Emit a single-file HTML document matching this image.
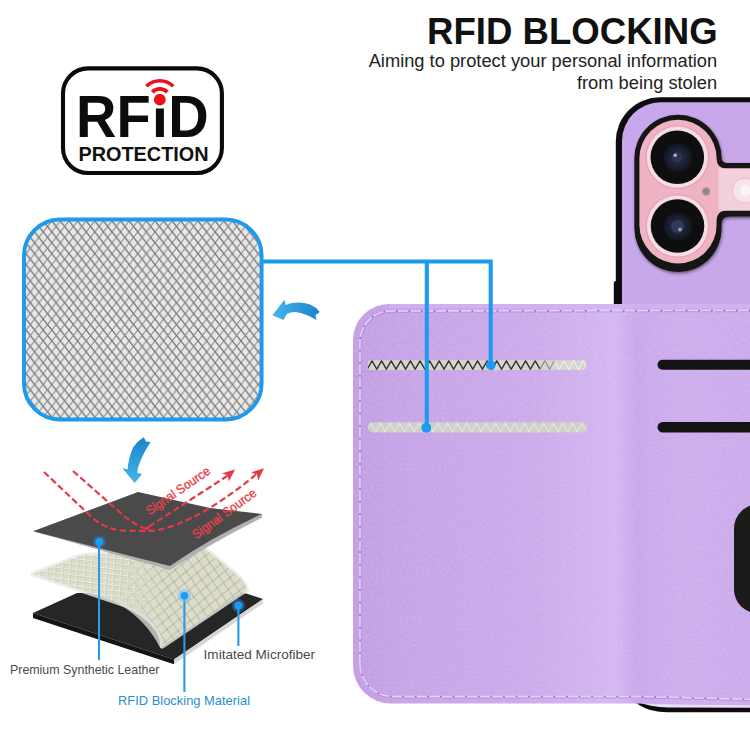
<!DOCTYPE html>
<html>
<head>
<meta charset="utf-8">
<title>RFID Blocking</title>
<style>
html,body{margin:0;padding:0;background:#fff;}
body{width:750px;height:750px;overflow:hidden;font-family:"Liberation Sans",sans-serif;}
svg{display:block;}
text{font-family:"Liberation Sans",sans-serif;}
</style>
</head>
<body>
<svg width="750" height="750" viewBox="0 0 750 750">
<defs>
  <!-- mesh pattern for big swatch -->
  <pattern id="mesh" width="8.6" height="10.9" patternUnits="userSpaceOnUse" x="26" y="221">
    <rect width="8.6" height="10.9" fill="#e8e8e8"/>
    <path d="M-4.3 -5.45 L12.9 16.35 M-4.3 5.45 L4.3 16.35 M4.3 -5.45 L12.9 5.45" stroke="#6e6e6e" stroke-width="1.25" fill="none"/>
    <path d="M12.9 -5.45 L-4.3 16.35 M4.3 -5.45 L-4.3 5.45 M12.9 5.45 L4.3 16.35" stroke="#808080" stroke-width="1.0" fill="none"/>
  </pattern>
  <!-- slot mesh -->
  
  
  <!-- layer mesh -->
  <pattern id="lmeshA" width="7.3" height="5.4" patternUnits="userSpaceOnUse" patternTransform="matrix(1 0.12 -0.06 1 0 0)">
    <rect width="7.3" height="5.4" fill="#dbdbca"/>
    <path d="M0.6 0 L0.6 5.4 M0 0.5 L7.3 0.5" stroke="#efefe4" stroke-width="1.2" fill="none"/>
    <path d="M1.7 0 L1.7 5.4 M0 1.5 L7.3 1.5" stroke="#c6c6b4" stroke-width="0.6" fill="none"/>
  </pattern>
  <pattern id="lmeshB" width="11" height="12" patternUnits="userSpaceOnUse" patternTransform="rotate(8)">
    <rect width="11" height="12" fill="#dcdccb"/>
    <path d="M0 0 L11 12 M11 0 L0 12" stroke="#a9a994" stroke-width="0.9" fill="none"/>
  </pattern>
  <linearGradient id="mfade" gradientUnits="userSpaceOnUse" x1="112" y1="0" x2="168" y2="0">
    <stop offset="0" stop-color="#fff" stop-opacity="0"/>
    <stop offset="1" stop-color="#fff" stop-opacity="1"/>
  </linearGradient>
  <mask id="mB" maskUnits="userSpaceOnUse" x="0" y="500" width="300" height="200"><rect x="0" y="500" width="300" height="200" fill="url(#mfade)"/></mask>
  <linearGradient id="leather" gradientUnits="userSpaceOnUse" x1="353" y1="0" x2="750" y2="0">
    <stop offset="0" stop-color="#c29fe3"/>
    <stop offset="0.12" stop-color="#c7a4e7"/>
    <stop offset="0.45" stop-color="#cdaaeb"/>
    <stop offset="0.60" stop-color="#d2b3ef"/>
    <stop offset="0.66" stop-color="#d5b7f1"/>
    <stop offset="0.69" stop-color="#cfaeed"/>
    <stop offset="0.715" stop-color="#c9a7ea"/>
    <stop offset="0.75" stop-color="#cbaaec"/>
    <stop offset="0.82" stop-color="#ceaded"/>
    <stop offset="1" stop-color="#ccabec"/>
  </linearGradient>
  <linearGradient id="bluearrow" x1="0" y1="0" x2="1" y2="1">
    <stop offset="0" stop-color="#7cc8f2"/>
    <stop offset="1" stop-color="#1c86d6"/>
  </linearGradient>
  <radialGradient id="lens" cx="0.5" cy="0.5" r="0.5">
    <stop offset="0" stop-color="#2a3350"/>
    <stop offset="0.6" stop-color="#1b2133"/>
    <stop offset="0.9" stop-color="#141824"/>
    <stop offset="1" stop-color="#0e0e10"/>
  </radialGradient>
  <linearGradient id="arrL" x1="0" y1="0" x2="1" y2="0">
    <stop offset="0" stop-color="#45b6ec"/>
    <stop offset="1" stop-color="#1a83cb"/>
  </linearGradient>
  <linearGradient id="arrD" x1="0" y1="0" x2="0" y2="1">
    <stop offset="0" stop-color="#1a83cb"/>
    <stop offset="1" stop-color="#45b6ec"/>
  </linearGradient>
  <filter id="grain" x="0" y="0" width="100%" height="100%" color-interpolation-filters="sRGB">
    <feTurbulence type="fractalNoise" baseFrequency="0.38" numOctaves="2" seed="7" result="n"/>
    <feColorMatrix type="matrix" values="0 0 0 0 1  0 0 0 0 1  0 0 0 0 1  0.9 0 0 0 -0.38" result="w"/>
    <feComposite in="w" in2="SourceGraphic" operator="in"/>
  </filter>
  <filter id="soft" x="-10%" y="-10%" width="120%" height="120%"><feGaussianBlur stdDeviation="1.6"/></filter>
</defs>

<rect width="750" height="750" fill="#ffffff"/>

<!-- ===== headline ===== -->
<g id="headline">
  <text x="717.6" y="43.8" font-size="36.6" font-weight="700" text-anchor="end" fill="#111">RFID BLOCKING</text>
  <text x="717.2" y="66.8" font-size="18.3" text-anchor="end" fill="#222">Aiming to protect your personal information</text>
  <text x="717.2" y="88.5" font-size="18.3" text-anchor="end" fill="#222">from being stolen</text>
</g>

<!-- ===== RFID badge ===== -->
<g id="badge">
  <rect x="63" y="68.4" width="158.9" height="104.6" rx="25" ry="25" fill="#fff" stroke="#0a0a0a" stroke-width="4.1"/>
  <text transform="translate(76 137) scale(1 1.045)" font-size="56" font-weight="700" fill="#0c0c0c">RF</text>
  <rect x="155.9" y="108.5" width="8" height="28.5" fill="#0c0c0c"/>
  <text transform="translate(168.3 137) scale(1 1.045)" font-size="56" font-weight="700" fill="#0c0c0c">D</text>
  <circle cx="159.8" cy="99.7" r="5.9" fill="#ea1219"/>
  <path d="M152.2 92.1 A10.7 10.7 0 0 1 167.4 92.1" fill="none" stroke="#ea1219" stroke-width="3.7"/>
  <path d="M146.4 86.3 A18.9 18.9 0 0 1 173.2 86.3" fill="none" stroke="#ea1219" stroke-width="3.7"/>
  <text transform="translate(78.4 160.7) scale(1 1.04)" font-size="19" font-weight="700" fill="#111" textLength="130.2" lengthAdjust="spacingAndGlyphs">PROTECTION</text>
</g>

<!-- ===== mesh swatch ===== -->
<g id="swatch">
  <rect x="24" y="219.5" width="237.6" height="200" rx="36" ry="36" fill="url(#mesh)" stroke="#1f9aeb" stroke-width="3.9"/>
</g>

<!-- ===== phone ===== -->
<g id="phone">
  <!-- black case edge -->
  <path d="M613.8 320 L613.8 283 Q613.8 281 615.8 281 L615.8 141.3 A44 44 0 0 1 659.8 97.3 L760 97.3 L760 320 Z" fill="#0d0d0d"/>
  <!-- purple back -->
  <path d="M622 320 L622 141 A38.8 38.8 0 0 1 660.8 102.2 L760 102.2 L760 320 Z" fill="#c8a7ea"/>
  <!-- camera island outline -->
  <use href="#isl" transform="translate(0.8 1.6)" filter="url(#soft)" opacity="0.55"/>
  <path id="isl" d="M634.4 158.3 A43.6 43.6 0 0 1 721.6 158.3 Q721.6 163 728 163 L760 163 L760 216.6 L730 216.6 Q721.6 216.6 721.6 224 L721.6 228.4 A43.6 43.6 0 0 1 634.4 228.4 Z" fill="#151515"/>
  <!-- pink island -->
  <path d="M639.4 158.3 A38.6 38.6 0 0 1 716.6 158.3 Q716.6 168.6 727 168.6 L760 168.6 L760 210.4 L727 210.4 Q716.6 210.4 716.6 221 L716.6 225 A38.6 38.6 0 0 1 639.4 225 Z" fill="#efb3c4"/>
  <!-- lighter ledge -->
  <path d="M718.5 168.6 L760 168.6 L760 210.4 L718.5 210.4 Z" fill="#f4d0da"/>
  <!-- lenses -->
  <circle cx="677.3" cy="157.2" r="32" fill="#e7a3b8"/>
  <circle cx="677.3" cy="157.2" r="30.6" fill="#f6dde3"/>
  <circle cx="677.3" cy="157.2" r="26.8" fill="#0e0e10"/>
  <circle cx="677.8" cy="157.8" r="14.5" fill="url(#lens)"/>
  <circle cx="677" cy="157" r="5" fill="#2c3350"/>
  <circle cx="675.2" cy="155.2" r="1.7" fill="#aab4d0"/>
  <circle cx="677.5" cy="226" r="32" fill="#e7a3b8"/>
  <circle cx="677.5" cy="226" r="30.6" fill="#f6dde3"/>
  <circle cx="677.5" cy="226" r="26.8" fill="#0e0e10"/>
  <circle cx="677.8" cy="226.4" r="14.5" fill="url(#lens)"/>
  <circle cx="677.5" cy="226.5" r="6.5" fill="#2f3a5c"/>
  <circle cx="680" cy="229.5" r="2" fill="#8a96b8"/>
  <!-- mic -->
  <circle cx="706.1" cy="191.4" r="4" fill="#8e8a8c" stroke="#d9a0b4" stroke-width="0.8"/>
  <!-- flash -->
  <circle cx="745" cy="190.6" r="12.5" fill="#f6e4e8" stroke="#e9c3cf" stroke-width="1.2"/>
  <circle cx="745.5" cy="190.6" r="5.5" fill="#fbf3f4"/>
</g>

<!-- ===== wallet ===== -->
<g id="wallet">
  <!-- black case peeking under bottom right -->
  <path d="M634 701 Q646 712.2 668 712.2 L760 712.2 L760 700 Z" fill="#0c0c0c"/>
  <path d="M636 701 Q650 707.4 668 707.4 L760 707.8 L760 700 Z" fill="#e9def6"/>
  <!-- main leather -->
  <path id="wl" d="M353 340 A36 36 0 0 1 389 304 L760 304 L760 705.2 L690 704.8 L636 703.6 L391 703.6 A38 38 0 0 1 353 665.6 Z" fill="url(#leather)"/>
  <use href="#wl" fill="#fff" filter="url(#grain)" opacity="0.3" style="fill:#fff"/>
  <!-- top edge highlight -->
  <path d="M389 304 L760 304 L760 308 L389 308 Z" fill="#d2b4f0" opacity="0.7"/>
  <!-- fold creases -->
  <!-- stitching -->
  <g fill="none" stroke-linecap="round">
    <path d="M360.6 664 L360.6 342 A31 31 0 0 1 391.6 311.9 L760 311.3" stroke="#b18cdb" stroke-width="1.6" stroke-dasharray="9.6 3"/>
    <path d="M360 664 L360 342 A31 31 0 0 1 391 311 L760 310.4" stroke="#e3cff8" stroke-width="1.6" stroke-dasharray="9.6 3"/>
    <path d="M360 664 L360 342 A31 31 0 0 1 391 311 L760 310.4" stroke="#8e6cb8" stroke-width="1.4" stroke-dasharray="0.6 12" stroke-dashoffset="-10.8"/>
    <path d="M360.6 664 A32.8 32.8 0 0 0 393.4 697.5 L640 697.5 L760 700.5" stroke="#b18cdb" stroke-width="1.6" stroke-dasharray="9.6 3"/>
    <path d="M360 664 A32.8 32.8 0 0 0 392.8 696.6 L640 696.6 L760 699.6" stroke="#e3cff8" stroke-width="1.6" stroke-dasharray="9.6 3"/>
    <path d="M360 664 A32.8 32.8 0 0 0 392.8 696.6 L640 696.6 L760 699.6" stroke="#8e6cb8" stroke-width="1.4" stroke-dasharray="0.6 12" stroke-dashoffset="-10.8"/>
  </g>
  <!-- card slots left -->
  <clipPath id="s1c"><rect x="367.8" y="360.3" width="218.4" height="9.8" rx="3.5"/></clipPath>
  <rect x="367.8" y="360.3" width="218.4" height="9.8" rx="3.5" fill="#d6d6cf"/>
  <g clip-path="url(#s1c)" fill="none">
    <path d="M549.6 369.6 L554.4 360.8 L559.2 369.6 L564.0 360.8 L568.8 369.6 L573.6 360.8 L578.4 369.6 L583.2 360.8 L588.0 369.6 L592.8 360.8" stroke="#eeeeea" stroke-width="1.2"/>
    <path d="M367.2 369.2 L372.0 360.8 L376.8 369.2 L381.6 360.8 L386.4 369.2 L391.2 360.8 L396.0 369.2 L400.8 360.8 L405.6 369.2 L410.4 360.8 L415.2 369.2 L420.0 360.8 L424.8 369.2 L429.6 360.8 L434.4 369.2 L439.2 360.8 L444.0 369.2 L448.8 360.8 L453.6 369.2 L458.4 360.8 L463.2 369.2 L468.0 360.8 L472.8 369.2 L477.6 360.8 L482.4 369.2 L487.2 360.8 L492.0 369.2 L496.8 360.8 L501.6 369.2 L506.4 360.8 L511.2 369.2 L516.0 360.8 L520.8 369.2 L525.6 360.8 L530.4 369.2 L535.2 360.8 L540.0 369.2" stroke="#333" stroke-width="1.35"/>
    <path d="M540.0 369.2 L544.8 360.8 L549.6 369.2 L554.4 360.8" stroke="#8a8a86" stroke-width="1.2"/>
  </g>
  <clipPath id="s2c"><rect x="368.2" y="422.2" width="218.4" height="10.2" rx="4.5"/></clipPath>
  <rect x="368.2" y="422.2" width="218.4" height="10.2" rx="4.5" fill="#d0d0c9"/>
  <g clip-path="url(#s2c)" fill="none">
    <path d="M366.0 432.0 L370.8 423.0 L375.6 432.0 L380.4 423.0 L385.2 432.0 L390.0 423.0 L394.8 432.0 L399.6 423.0 L404.4 432.0 L409.2 423.0 L414.0 432.0 L418.8 423.0 L423.6 432.0 L428.4 423.0 L433.2 432.0 L438.0 423.0 L442.8 432.0 L447.6 423.0 L452.4 432.0 L457.2 423.0 L462.0 432.0 L466.8 423.0 L471.6 432.0 L476.4 423.0 L481.2 432.0 L486.0 423.0 L490.8 432.0 L495.6 423.0 L500.4 432.0 L505.2 423.0 L510.0 432.0 L514.8 423.0 L519.6 432.0 L524.4 423.0 L529.2 432.0 L534.0 423.0 L538.8 432.0 L543.6 423.0 L548.4 432.0 L553.2 423.0 L558.0 432.0 L562.8 423.0 L567.6 432.0 L572.4 423.0 L577.2 432.0 L582.0 423.0 L586.8 432.0 L591.6 423.0" stroke="#e2e2dc" stroke-width="1.3"/>
  </g>
  <!-- black slots right -->
  <rect x="657.5" y="359.8" width="110" height="10" rx="5" fill="#141414"/>
  <rect x="657.5" y="422" width="110" height="10.6" rx="5.3" fill="#141414"/>
  <!-- black cutout right -->
  <rect x="734" y="504.4" width="70" height="109" rx="24" fill="#1b1b19"/>
</g>

<!-- ===== leader lines ===== -->
<g id="leaders" fill="none" stroke="#1a9bee" stroke-width="4.1" stroke-linejoin="miter">
  <path d="M262 261.5 L490.7 261.5 L490.7 364"/>
  <path d="M426.8 261.5 L426.8 427"/>
  <circle cx="490.8" cy="365.2" r="4.8" fill="#1a9bee" stroke="none"/>
  <circle cx="426.3" cy="427.7" r="5" fill="#1a9bee" stroke="none"/>
</g>

<!-- ===== layers diagram ===== -->
<g id="layers">
  <!-- blue arrows -->
  <path d="M272.3 315.2 L284.5 299.7 L285.6 305 Q297 300.5 310.1 304.5 Q316 307 319.7 312 L315.5 315.2 L316.5 320 Q306 313.5 295.2 312 Q290 312 286.7 314.1 L283.5 320 Z" fill="url(#arrL)"/>
  <path d="M143.7 437.3 L145.9 441.5 L150.7 442.1 Q142.7 453.8 137.9 467.7 L137.3 473 L142.1 474.1 L134.7 483.1 L122.4 468.2 L127.7 469.3 Q128.3 458 133.1 447.4 Q137 441.5 143.7 437.3 Z" fill="url(#arrD)"/>

  <!-- bottom black layer -->
  <path d="M33 613 L77 593 L242 592 L263 599 L174 659.6 Z" fill="#262626"/>
  <path d="M33 613 L174 659.6 L174 664.3 L33 618 Z" fill="#141414"/>
  <path d="M174 659.6 L263 599 L263 603.4 L174 664.3 Z" fill="#d6d6d6"/>
  <!-- gray peel -->
  <path d="M117 603.3 Q145 618 160.5 648.5 L166 642 L150 608 L128 604 Z" fill="#b2b2b2"/>
  <!-- mesh layer -->
  <path d="M33 574 L80 556 L200 545 L228 568 Q244 580 247 590 L242 592.5 L162.5 646 Q163 624 128 606 Z" fill="#e9e9e4" stroke="#e9e9e6" stroke-width="5" stroke-linejoin="round" opacity="0.8"/>
  <path id="msh" d="M33 574 L80 556 L200 545 L228 568 Q244 580 247 590 L242 592.5 L162.5 646 Q163 624 128 606 Z" fill="url(#lmeshA)"/>
  <path d="M33 574 L80 556 L200 545 L228 568 Q244 580 247 590 L242 592.5 L162.5 646 Q163 624 128 606 Z" fill="url(#lmeshB)" mask="url(#mB)"/>
  <!-- top dark layer -->
  <path d="M33 531.3 L170 570 Q215 541 262 517.8 L262 514 L170 545 Z" fill="#b0b0b0"/>
  <path d="M33 531.3 L138 492 L210 508 L262 514 Q212 537 170 566 Z" fill="#4a4a4a"/>

  <!-- red dashed signal lines -->
  <g fill="none" stroke="#e23a46" stroke-width="2.2" stroke-dasharray="6.5 3.2">
    <path d="M44 472 L90 515.5 Q104 529 122 530.5 L150 531 Q172 530 210 508 Q235 492 256 474.5"/>
    <path d="M73 471 L124 516 Q138 527 146 528.5 L228 475.5"/>
  </g>
  <path d="M235 469.4 L222.1 473.2 L227.8 475.4 L228.8 481.6 Z" fill="#e23a46"/>
  <path d="M264 468.2 L251.2 472.4 L257 474.5 L258.2 480.6 Z" fill="#e23a46"/>
  <path d="M152.5 524.2 L146.2 528.4 L153.4 531.6" fill="none" stroke="#e23a46" stroke-width="1.8"/>
  <text transform="translate(149.5 515.5) rotate(-34.5)" font-size="12.6" fill="#e8404a" stroke="#e8404a" stroke-width="0.35" textLength="75" lengthAdjust="spacingAndGlyphs">Signal Source</text>
  <text transform="translate(196 539.5) rotate(-36)" font-size="12.6" fill="#e8404a" stroke="#e8404a" stroke-width="0.35" textLength="76" lengthAdjust="spacingAndGlyphs">Signal Source</text>

  <!-- blue callouts -->
  <g stroke="#2a9ae8" stroke-width="2.1" fill="none">
    <path d="M99 542 L99 660"/>
    <path d="M184.4 596 L184.4 692"/>
    <path d="M238.4 606 L238.4 646"/>
  </g>
  <circle cx="99.4" cy="542" r="6.6" fill="#2196e8" opacity="0.35"/>
  <circle cx="99.4" cy="542" r="4" fill="#1e9bf0"/>
  <circle cx="184.4" cy="595.8" r="6.6" fill="#6cc0f6" opacity="0.55"/>
  <circle cx="184.4" cy="595.8" r="3.8" fill="#1e9bf0"/>
  <circle cx="238.4" cy="605.6" r="6.6" fill="#2196e8" opacity="0.4"/>
  <circle cx="238.4" cy="605.6" r="4" fill="#1e9bf0"/>

  <!-- labels -->
  <text x="10" y="673.6" font-size="13.4" fill="#4a4a4a" textLength="149.5" lengthAdjust="spacingAndGlyphs">Premium Synthetic Leather</text>
  <text x="203.6" y="659.4" font-size="13.4" fill="#4a4a4a" textLength="111.5" lengthAdjust="spacingAndGlyphs">Imitated Microfiber</text>
  <text x="118" y="705" font-size="13.4" fill="#2a8fd0" textLength="132" lengthAdjust="spacingAndGlyphs">RFID Blocking Material</text>
</g>

</svg>
</body>
</html>
